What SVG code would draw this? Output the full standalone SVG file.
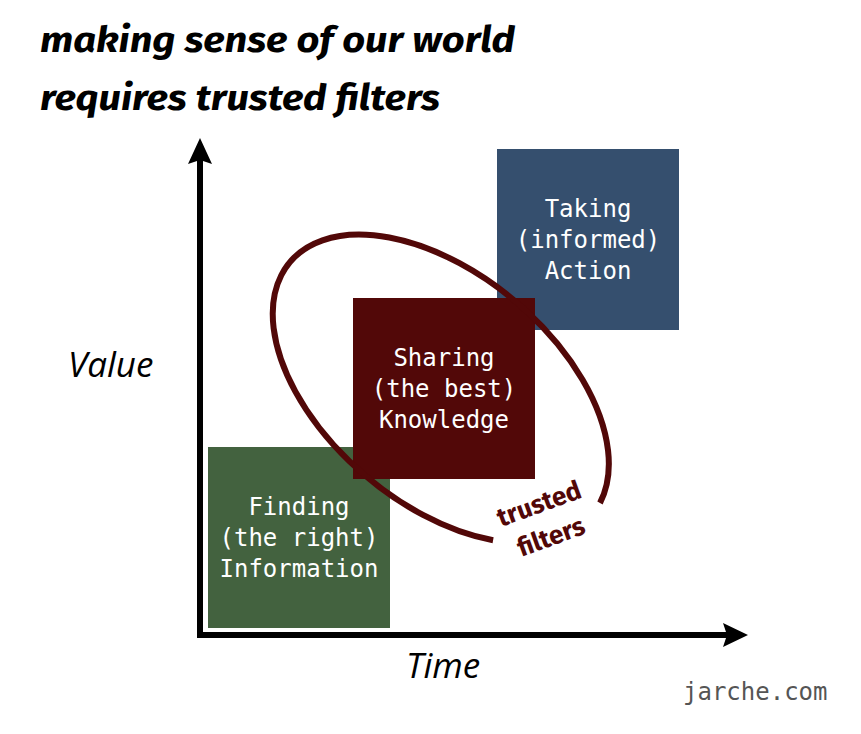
<svg xmlns="http://www.w3.org/2000/svg" width="861" height="734" viewBox="0 0 861 734">
<style>
.title{font-family:"Fira Sans","Open Sans","Noto Sans",sans-serif;font-weight:bold;font-style:italic;font-size:37px;fill:#000}
.axislbl{font-family:"Open Sans","Noto Sans",sans-serif;font-style:italic;font-size:35px;fill:#000}
.box{font-family:"DejaVu Sans Mono","Liberation Mono",monospace;font-size:24px;fill:#fff;text-anchor:middle}
.tf{font-family:"Fira Sans","Open Sans","Noto Sans",sans-serif;font-weight:bold;font-size:26px;fill:#520808;text-anchor:middle}
.credit{font-family:"DejaVu Sans Mono","Liberation Mono",monospace;font-size:24px;fill:#555}
</style>
<rect width="861" height="734" fill="#fff"/>
<g id="title">
<text class="title" x="40" y="52" textLength="475" lengthAdjust="spacingAndGlyphs">making sense of our world</text>
<text class="title" x="40" y="110" textLength="400" lengthAdjust="spacingAndGlyphs">requires trusted filters</text>
</g>
<g id="axes">
<line x1="200" y1="638" x2="200" y2="158" stroke="#000" stroke-width="6"/>
<path d="M200,138 L212,164 L200,160 L188,164 Z" fill="#000"/>
<line x1="197" y1="635" x2="728" y2="635" stroke="#000" stroke-width="6"/>
<path d="M748,635 L723,647 L727,635 L723,623 Z" fill="#000"/>
<text class="axislbl" x="68" y="377">Value</text>
<text class="axislbl" x="406" y="678">Time</text>
</g>
<g id="action">
<rect x="497" y="149" width="182" height="181" fill="#354f6e"/>
<text class="box" x="588" y="217">Taking</text>
<text class="box" x="588" y="248">(informed)</text>
<text class="box" x="588" y="279">Action</text>
</g>
<g id="information">
<rect x="208" y="447" width="182" height="181" fill="#43623f"/>
<text class="box" x="299" y="515">Finding</text>
<text class="box" x="299" y="546">(the right)</text>
<text class="box" x="299" y="577">Information</text>
</g>
<g id="knowledge">
<rect x="353" y="298" width="182" height="181" fill="#520808"/>
<text class="box" x="444" y="366">Sharing</text>
<text class="box" x="444" y="397">(the best)</text>
<text class="box" x="444" y="428">Knowledge</text>
</g>
<g id="filters">
<path d="M493.1,540.3 A197,115 40 1 1 600,503" fill="none" stroke="#520808" stroke-width="6"/>
<text class="tf" transform="translate(542,512) rotate(-20)">trusted</text>
<text class="tf" transform="translate(554,545) rotate(-20)">filters</text>
</g>
<text class="credit" x="683" y="700">jarche.com</text>
</svg>
